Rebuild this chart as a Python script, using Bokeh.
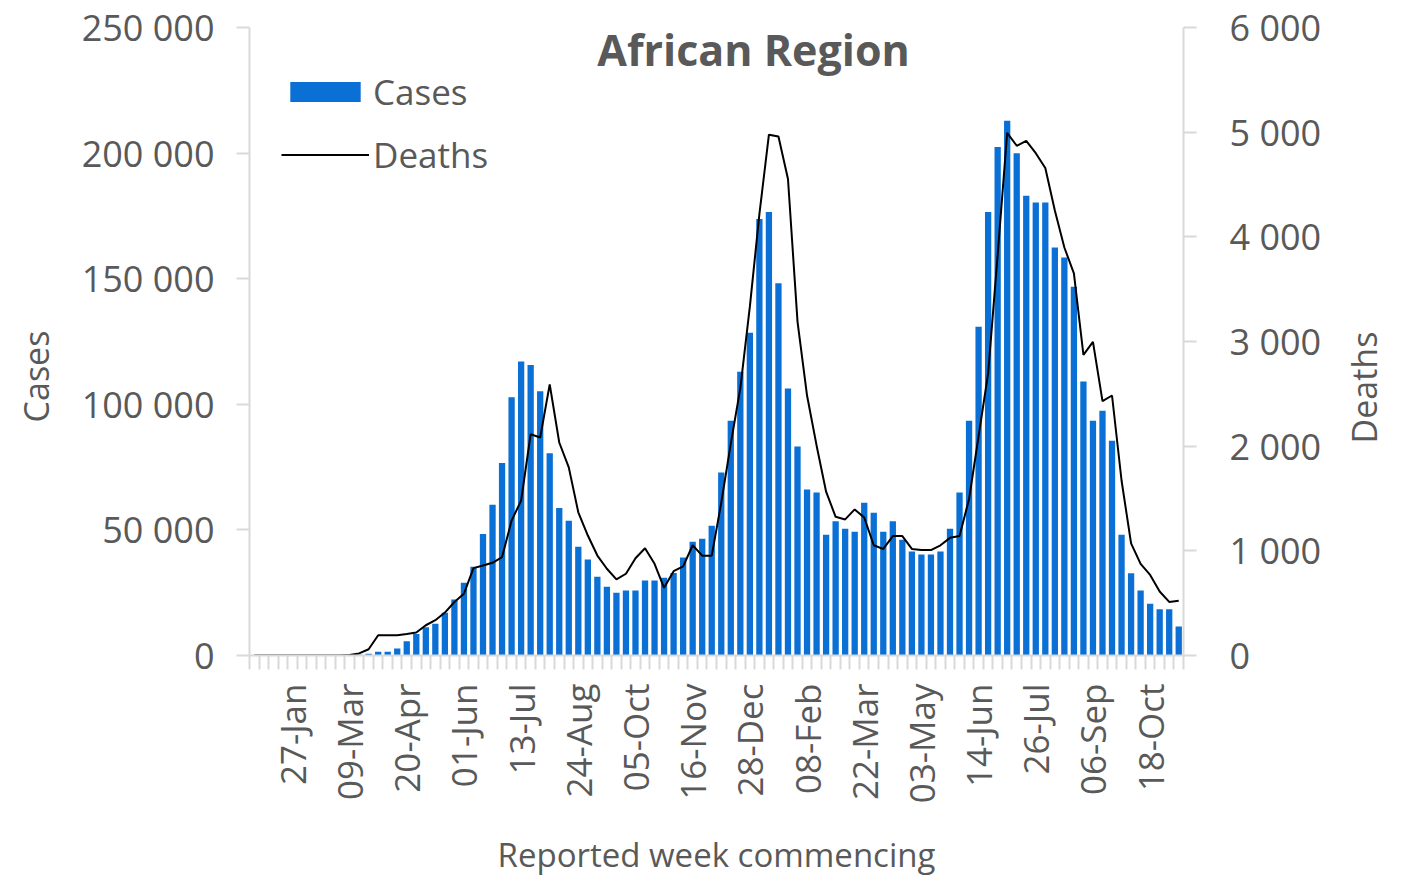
import math
from bokeh.plotting import figure
from bokeh.layouts import row
from bokeh.models import (Range1d, LinearAxis, FixedTicker, Legend, LegendItem,
                          Label, ColumnDataSource)
from bokeh.embed import file_html
from bokeh.resources import INLINE

# ---------------- data ----------------
week_tick_labels = ["27-Jan", "09-Mar", "20-Apr", "01-Jun", "13-Jul", "24-Aug",
                    "05-Oct", "16-Nov", "28-Dec", "08-Feb", "22-Mar", "03-May",
                    "14-Jun", "26-Jul", "06-Sep", "18-Oct"]
first_labelled_week = 4
label_every = 6

cases = [0, 0, 0, 0, 0, 0, 0, 0, 0, 0,
         50, 300, 700, 1500, 1500, 2800, 5700, 8600, 11200, 12600,
         17000, 22300, 29000, 35300, 48400, 60000, 76600, 102800, 117000, 115600,
         105200, 80500, 58700, 53600, 43300, 38200, 31300, 27400, 25000, 25900,
         25900, 29900, 29900, 31000, 32800, 39000, 45300, 46500, 51700, 72900,
         93500, 113000, 128500, 173800, 176600, 148200, 106300, 83200, 66100, 64900,
         48100, 53400, 50500, 49300, 60800, 56800, 49300, 53400, 46100, 41400,
         40200, 40200, 41400, 50500, 64900, 93500, 130900, 176600, 202400, 212900,
         199900, 183000, 180300, 180300, 162400, 158400, 146800, 109100, 93500, 97400,
         85500, 48100, 32700, 25900, 20600, 18400, 18400, 11500]

deaths = [0, 0, 0, 0, 0, 0, 0, 0, 0, 0,
          5, 20, 60, 194, 194, 194, 206, 219, 289, 337,
          410, 511, 590, 835, 860, 886, 940, 1289, 1480, 2114,
          2083, 2590, 2035, 1797, 1368, 1146, 955, 829, 727, 781,
          929, 1025, 876, 647, 806, 852, 1053, 954, 954, 1460,
          2025, 2555, 3333, 4216, 4976, 4958, 4552, 3191, 2484, 2007,
          1565, 1325, 1300, 1396, 1318, 1053, 1018, 1141, 1141, 1018,
          1007, 1007, 1053, 1124, 1141, 1495, 2096, 2696, 3827, 4994,
          4870, 4916, 4799, 4658, 4251, 3898, 3651, 2873, 2997, 2431,
          2484, 1672, 1071, 876, 770, 611, 512, 523]

cases_ticks = [0, 50000, 100000, 150000, 200000, 250000]
cases_tick_labels = ["0", "50 000", "100 000", "150 000", "200 000", "250 000"]
deaths_ticks = [0, 1000, 2000, 3000, 4000, 5000, 6000]
deaths_tick_labels = ["0", "1 000", "2 000", "3 000", "4 000", "5 000", "6 000"]

chart_title = "African Region"
x_title = "Reported week commencing"
y_left_title = "Cases"
y_right_title = "Deaths"

# ---------------- styling ----------------
FONT = "Open Sans"
TXT = "#595959"
AXC = "#d9d9d9"
BLUE = "#0B70D5"

n = len(cases)
weeks = list(range(n))
src = ColumnDataSource(dict(week=weeks, cases=cases, deaths=deaths))

H = 880
LEFT_W = 60           # side strip holding the left axis title
RIGHT_W = 69          # side strip holding the right axis title
FL, FR, FT, FB = 249, 1183, 27, 657   # intended frame edges on the page
FB_REAL = 655                          # frame bottom as laid out (row aligns frames)
MAIN_RB = 150                          # right border of main figure
MAIN_W = FR - LEFT_W + MAIN_RB

p = figure(width=MAIN_W, height=H,
           x_range=Range1d(-0.5, n - 0.5), y_range=Range1d(0, 250000),
           output_backend="svg", toolbar_location=None,
           min_border_left=FL - LEFT_W, min_border_right=MAIN_RB,
           min_border_top=FT, min_border_bottom=H - FB,
           outline_line_color=None)
p.extra_y_ranges = {"deaths": Range1d(0, 6000)}
p.xgrid.visible = False
p.ygrid.visible = False

bars = p.vbar(x="week", top="cases", width=0.66, source=src,
              fill_color=BLUE, line_color=None)
ln = p.line(x="week", y="deaths", source=src, y_range_name="deaths",
            line_color="black", line_width=2)

# x axis
label_pos = [first_labelled_week + label_every * k for k in range(len(week_tick_labels))]
xa = p.xaxis[0]
xa.ticker = FixedTicker(ticks=label_pos,
                        minor_ticks=[i - 0.5 for i in range(n + 1)])
xa.major_label_overrides = {pos: lab for pos, lab in zip(label_pos, week_tick_labels)}
xa.major_label_orientation = math.pi / 2
xa.major_tick_line_color = None
xa.major_tick_out = 14
xa.major_tick_in = 0
xa.minor_tick_out = 14
xa.minor_tick_in = 0
xa.minor_tick_line_color = AXC
xa.minor_tick_line_width = 2
xa.axis_line_color = AXC
xa.axis_line_width = 2
xa.major_label_standoff = 14
xa.major_label_text_font = FONT
xa.major_label_text_font_size = "35px"
xa.major_label_text_color = TXT
xa.axis_label = x_title
xa.axis_label_text_font = FONT
xa.axis_label_text_font_size = "33px"
xa.axis_label_text_font_style = "normal"
xa.axis_label_text_color = TXT
xa.axis_label_standoff = 26

def style_y(ax, ticks, labels, standoff):
    ax.ticker = FixedTicker(ticks=ticks, minor_ticks=[])
    ax.major_label_overrides = {t: l for t, l in zip(ticks, labels)}
    ax.major_tick_out = 13
    ax.major_tick_in = 0
    ax.major_tick_line_color = AXC
    ax.major_tick_line_width = 2
    ax.minor_tick_line_color = None
    ax.axis_line_color = AXC
    ax.axis_line_width = 2
    ax.major_label_standoff = standoff
    ax.major_label_text_font = FONT
    ax.major_label_text_font_size = "36px"
    ax.major_label_text_color = TXT

style_y(p.yaxis[0], cases_ticks, cases_tick_labels, 22)

ra = LinearAxis(y_range_name="deaths")
style_y(ra, deaths_ticks, deaths_tick_labels, 33)
p.add_layout(ra, "right")

# chart title (inside the frame)
p.add_layout(Label(x=753 - FL, y=FB - 51, x_units="screen", y_units="screen",
                   text=chart_title, text_align="center", text_baseline="middle",
                   text_font=FONT, text_font_size="43px", text_font_style="bold",
                   text_color=TXT))

# legend
legend = Legend(items=[LegendItem(label="Cases", renderers=[bars]),
                       LegendItem(label="Deaths", renderers=[ln])],
                location=(281 - FL, FB - 180), orientation="vertical",
                glyph_width=88, glyph_height=25, spacing=16,
                label_text_font=FONT, label_text_font_size="35px",
                label_text_color=TXT, label_standoff=4,
                padding=0, margin=0, border_line_color=None,
                background_fill_alpha=0)
p.add_layout(legend)

# side strips carrying the vertical axis titles (read bottom-to-top)
def side_strip(width, text, cx, cy):
    s = figure(width=width, height=H, x_range=Range1d(0, 1), y_range=Range1d(0, 1),
               output_backend="svg", toolbar_location=None,
               x_axis_location=None, y_axis_location=None,
               min_border=0, min_border_left=0, min_border_right=0,
               min_border_top=0, min_border_bottom=0,
               outline_line_color=None)
    s.grid.visible = False
    s.add_layout(Label(x=cx, y=FB_REAL - cy, x_units="screen", y_units="screen",
                       text=text, angle=math.pi / 2, text_align="center",
                       text_baseline="middle", text_font=FONT,
                       text_font_size="34px", text_color=TXT))
    return s

left_strip = side_strip(LEFT_W, y_left_title, 35, 376)
right_strip = side_strip(RIGHT_W, y_right_title, 1363 - (LEFT_W + MAIN_W), 387)

layout = row(left_strip, p, right_strip, spacing=0)

open("out.html", "w").write(file_html(layout, INLINE))
